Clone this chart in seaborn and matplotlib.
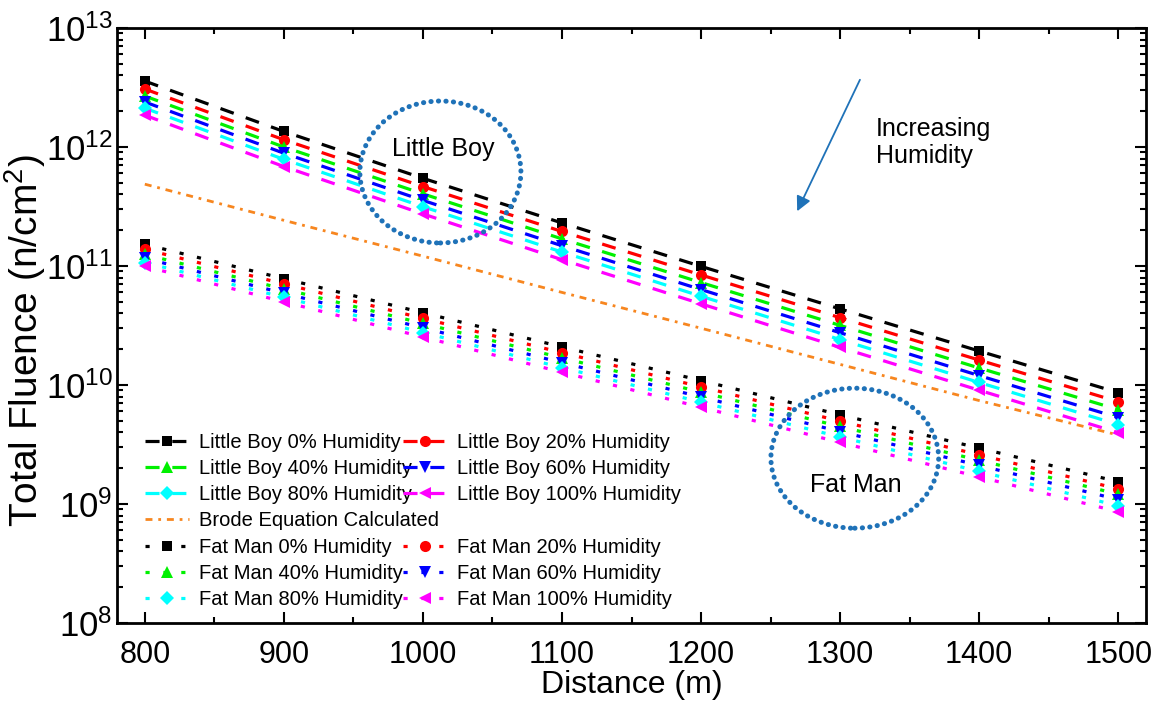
import matplotlib
matplotlib.use("Agg")
import matplotlib.pyplot as plt
import matplotlib.ticker as mticker
from matplotlib.lines import Line2D
from matplotlib.patches import Ellipse
import numpy as np
import pandas as pd
import seaborn as sns

# ---- data (neutron fluence vs. ground distance) ----
distance = [800, 900, 1000, 1100, 1200, 1300, 1400, 1500]

lb_0 = [3.58e12, 1.35e12, 5.46e11, 2.30e11, 9.93e10, 4.36e10, 1.93e10, 8.63e9]
lb_20 = [3.07e12, 1.15e12, 4.65e11, 1.95e11, 8.41e10, 3.68e10, 1.62e10, 7.24e9]
lb_40 = [2.68e12, 1.00e12, 4.04e11, 1.69e11, 7.26e10, 3.17e10, 1.39e10, 6.21e9]
lb_60 = [2.39e12, 8.87e11, 3.56e11, 1.48e11, 6.34e10, 2.75e10, 1.20e10, 5.32e9]
lb_80 = [2.12e12, 7.87e11, 3.15e11, 1.31e11, 5.57e10, 2.41e10, 1.05e10, 4.65e9]
lb_100 = [1.85e12, 6.85e11, 2.74e11, 1.13e11, 4.81e10, 2.07e10, 9.04e9, 3.98e9]

brode = [4.87e11, 2.42e11, 1.21e11, 6.00e10, 3.00e10, 1.49e10, 7.40e9, 3.80e9]

fm_0 = [1.52e11, 7.83e10, 4.05e10, 2.09e10, 1.09e10, 5.62e9, 2.95e9, 1.54e9]
fm_20 = [1.38e11, 7.08e10, 3.63e10, 1.87e10, 9.64e9, 4.97e9, 2.59e9, 1.34e9]
fm_40 = [1.25e11, 6.41e10, 3.29e10, 1.69e10, 8.71e9, 4.48e9, 2.33e9, 1.21e9]
fm_60 = [1.16e11, 5.90e10, 3.02e10, 1.54e10, 7.93e9, 4.06e9, 2.11e9, 1.09e9]
fm_80 = [1.07e11, 5.45e10, 2.76e10, 1.40e10, 7.18e9, 3.66e9, 1.88e9, 9.66e8]
fm_100 = [9.93e10, 5.00e10, 2.53e10, 1.28e10, 6.50e9, 3.29e9, 1.69e9, 8.61e8]

humidity_labels = ["0%", "20%", "40%", "60%", "80%", "100%"]
lb_series = [lb_0, lb_20, lb_40, lb_60, lb_80, lb_100]
fm_series = [fm_0, fm_20, fm_40, fm_60, fm_80, fm_100]

# ---- styling ----
colors = ["#000000", "#FF0000", "#00F000", "#0000FF", "#00FFFF", "#FF00FF"]
markers = ["s", "o", "^", "v", "D", "<"]
msizes = [7.5, 8, 8.5, 8.5, 7, 9]
lb_dash = (0, (4.4, 4.0))
fm_dash = (0, (1.3, 4.3))
brode_dash = (0, (2.5, 2.1, 1.0, 2.1))

sns.set_theme(style="ticks")
plt.rcParams["font.family"] = ["Liberation Sans", "DejaVu Sans"]
plt.rcParams["mathtext.default"] = "regular"
for key in ["text.color", "axes.labelcolor", "xtick.color", "ytick.color", "axes.edgecolor"]:
    plt.rcParams[key] = "black"

fig = plt.figure(figsize=(11.61, 7.02), dpi=100)
fig.patch.set_facecolor("white")
ax = fig.add_axes([117 / 1161, 1 - 623 / 702, 1029 / 1161, 595 / 702])
ax.set_facecolor("white")

rows = []
for lab, vals in zip(humidity_labels, lb_series):
    for d, v in zip(distance, vals):
        rows.append(("Little Boy " + lab + " Humidity", d, v))
for d, v in zip(distance, brode):
    rows.append(("Brode Equation Calculated", d, v))
for lab, vals in zip(humidity_labels, fm_series):
    for d, v in zip(distance, vals):
        rows.append(("Fat Man " + lab + " Humidity", d, v))
df = pd.DataFrame(rows, columns=["series", "distance", "fluence"])

handles = {}


def draw(name, color, marker, ms, ls, lw):
    sub = df[df["series"] == name]
    sns.lineplot(data=sub, x="distance", y="fluence", ax=ax, color=color,
                 marker=marker, markersize=ms, markeredgewidth=0,
                 linestyle=ls, linewidth=lw, estimator=None, errorbar=None,
                 sort=False, legend=False)
    line = ax.get_lines()[-1]
    line.set_dash_capstyle("butt")
    handles[name] = line


for lab, c, m, ms in zip(humidity_labels, colors, markers, msizes):
    draw("Little Boy " + lab + " Humidity", c, m, ms, lb_dash, 2.3)
draw("Brode Equation Calculated", "#F7861F", None, 0, brode_dash, 2.0)
for lab, c, m, ms in zip(humidity_labels, colors, markers, msizes):
    draw("Fat Man " + lab + " Humidity", c, m, ms, fm_dash, 2.3)

# ---- axes ----
ax.set_yscale("log")
ax.set_xlim(780, 1520)
ax.set_ylim(1e8, 1e13)
ax.xaxis.set_major_locator(mticker.MultipleLocator(100))
ax.xaxis.set_minor_locator(mticker.MultipleLocator(50))
ax.yaxis.set_major_locator(mticker.LogLocator(base=10, numticks=20))
ax.yaxis.set_minor_locator(mticker.LogLocator(base=10, subs=np.arange(2, 10), numticks=20))
ax.yaxis.set_minor_formatter(mticker.NullFormatter())
ax.tick_params(which="both", direction="in", top=True, right=True, width=1.5, color="black")
ax.tick_params(which="major", length=8)
ax.tick_params(which="minor", length=4.5)
ax.tick_params(axis="x", which="major", labelsize=22, pad=12)
ax.tick_params(axis="y", which="major", labelsize=25, pad=3)
for s in ax.spines.values():
    s.set_linewidth(2)
    s.set_color("black")
ax.set_xlabel("Distance (m)", fontsize=23, labelpad=0)
ax.set_ylabel("Total Fluence (n/cm$^{2}$)", fontsize=28, va="center")
ax.yaxis.set_label_coords(-0.089, 0.475)
ax.grid(False)

# ---- legend: left column, then right column placed beside it ----
col1 = ["Little Boy 0% Humidity", "Little Boy 40% Humidity", "Little Boy 80% Humidity",
        "Brode Equation Calculated", "Fat Man 0% Humidity", "Fat Man 40% Humidity",
        "Fat Man 80% Humidity"]
col2 = ["Little Boy 20% Humidity", "Little Boy 60% Humidity", "Little Boy 100% Humidity",
        None, "Fat Man 20% Humidity", "Fat Man 60% Humidity", "Fat Man 100% Humidity"]
leg_kw = dict(loc="upper left", frameon=False, fontsize=14.5, handlelength=2.2,
              labelspacing=0.36, handletextpad=0.5, borderaxespad=0, borderpad=0,
              numpoints=1)
leg1 = ax.legend([handles[n] for n in col1], col1, bbox_to_anchor=(0.027, 0.32), **leg_kw)
ax.add_artist(leg1)
blank = Line2D([], [], linestyle="none")
ax.legend([handles[n] if n else blank for n in col2], [n if n else "" for n in col2],
          bbox_to_anchor=(0.278, 0.32), **leg_kw)

# ---- annotations ----
blue = "#1F72B8"
for (cx, cy, w, h) in [(0.3143, 0.758, 0.1565, 0.2386), (0.717, 0.277, 0.163, 0.2353)]:
    e = Ellipse((cx, cy), w, h, transform=ax.transAxes, fill=False, edgecolor=blue,
                linewidth=3.6, linestyle=(0, (0.05, 1.45)), capstyle="round", zorder=5)
    ax.add_patch(e)
ax.text(0.3168, 0.797, "Little Boy", transform=ax.transAxes, fontsize=18,
        ha="center", va="center")
ax.text(0.718, 0.232, "Fat Man", transform=ax.transAxes, fontsize=18,
        ha="center", va="center")
ax.text(0.7376, 0.808, "Increasing\nHumidity", transform=ax.transAxes, fontsize=18,
        ha="left", va="center", linespacing=1.15)
ax.annotate("", xy=(0.661, 0.692), xytext=(0.722, 0.913), xycoords="axes fraction",
            textcoords="axes fraction",
            arrowprops=dict(arrowstyle="-|>", color=blue, lw=1.3, mutation_scale=22,
                            shrinkA=0, shrinkB=0))

fig.savefig("out.png", dpi=100, facecolor="white")
